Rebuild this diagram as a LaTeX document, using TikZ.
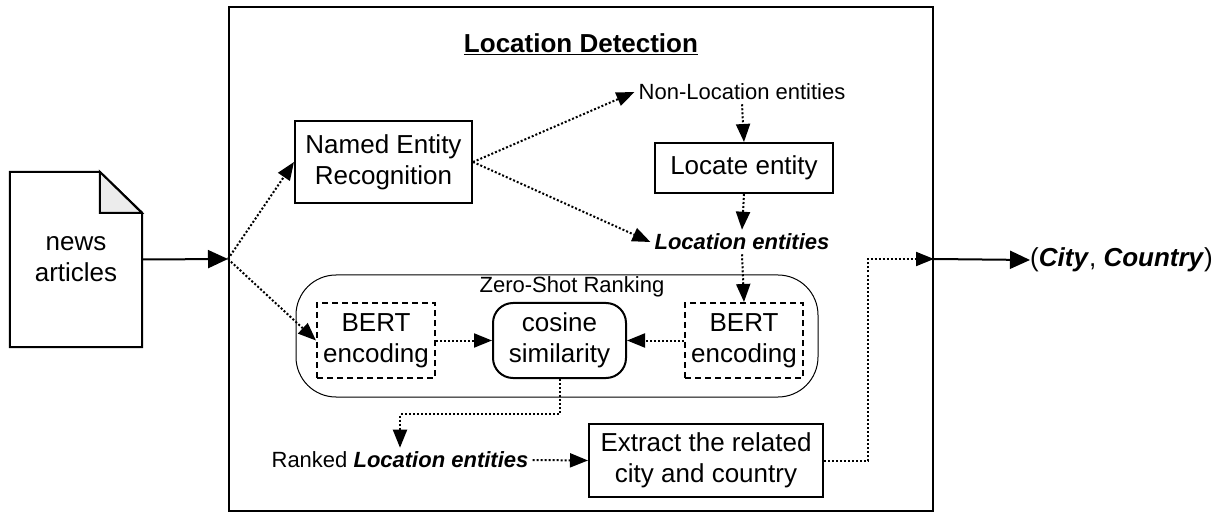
\documentclass[tikz,border=0pt]{standalone}
\usepackage{fontspec}
\setmainfont{Liberation Sans}
\usepackage{tikz}
\usetikzlibrary{calc}
\usetikzlibrary{arrows.meta}

\begin{document}
\begin{tikzpicture}[x=1pt,y=-1pt,
  txt/.style={font=\fontsize{26}{31}\selectfont, align=center, inner sep=0pt},
  lbl/.style={font=\fontsize{22}{26}\selectfont, inner sep=4pt},
  blk/.style={txt, draw, line width=2pt},
  enc/.style={blk, dash pattern=on 6pt off 4pt, minimum width=118, minimum height=75},
  dots/.style={-{Triangle[length=18pt,width=14pt]}, line width=2pt, dash pattern=on 2pt off 2pt},
  flow/.style={-{Triangle[length=20pt,width=18pt]}, line width=2pt}]
  \useasboundingbox (0,0) rectangle (1219,513);

  % outer frame
  \node[draw, line width=2pt, minimum width=704, minimum height=504] (detect) at (581,259) {};
  \node[font=\fontsize{26}{31}\selectfont\bfseries] (title) at (581,44) {\underline{Location Detection}};

  % input document
  \node[txt, minimum width=132, minimum height=175] (news) at (76,259.5) {news\\articles};
  \draw[line width=2pt] (news.north west) -- ++(90,0) coordinate (fold) -- ($(news.north east)+(0,41)$) -- (news.south east) -- (news.south west) -- cycle;
  \draw[line width=2pt, fill=gray!15] (fold) -- ++(0,41) -- ++(42,0) -- cycle;

  \node[blk, minimum width=177, minimum height=82] (ner) at (383.5,162) {Named Entity\\Recognition};
  \node[lbl] (nonloc) at (742,92) {Non-Location entities};
  \node[blk, minimum width=178, minimum height=50] (locate) at (744,168) {Locate entity};
  \node[lbl, font=\fontsize{22}{26}\selectfont\bfseries\itshape] (loc) at (742,242) {Location entities};

  % ranking block
  \node[draw, line width=1pt, rounded corners=40pt, minimum width=522, minimum height=122] (zsr) at (557,336) {};
  \node[lbl, inner sep=0pt] (zsrlbl) at (572,287) {Zero-Shot Ranking};
  \node[enc] (bert1) at (376,340.5) {BERT\\encoding};
  \node[blk, rounded corners=20pt, minimum width=133, minimum height=75] (cosine) at (559.5,340.5) {cosine\\similarity};
  \node[enc] (bert2) at (744,340.5) {BERT\\encoding};

  \node[lbl] (ranked) at (400,460) {Ranked \textbf{\textit{Location entities}}};
  \node[blk, minimum width=234, minimum height=73] (extract) at (706,460.5) {Extract the related\\city and country};
  \node[txt, anchor=west] (out) at (1030,260) {(\textbf{\textit{City}}, \textbf{\textit{Country}})};

  \draw[flow] (news.east) -- (detect.west);
  \draw[dots] (detect.west) -- (ner.west);
  \draw[dots] (detect.west) -- (bert1.west);
  \draw[dots] (ner.east) -- (nonloc.west);
  \draw[dots] (ner.east) -- (loc.west);
  \draw[dots] (nonloc.south) -- (locate.north);
  \draw[dots] (locate.south) -- (loc.north);
  \draw[dots] (loc.south) -- (bert2.north);
  \draw[dots] (bert1.east) -- (cosine.west);
  \draw[dots] (bert2.west) -- (cosine.east);
  \draw[dots] (cosine.south) -- ++(0,35) -| (ranked.north);
  \draw[dots] (ranked.east) -- (extract.west);
  \draw[dots] (extract.east) -- ++(44,0) |- (detect.east);
  \draw[flow] (detect.east) -- (out.west);
\end{tikzpicture}
\end{document}
